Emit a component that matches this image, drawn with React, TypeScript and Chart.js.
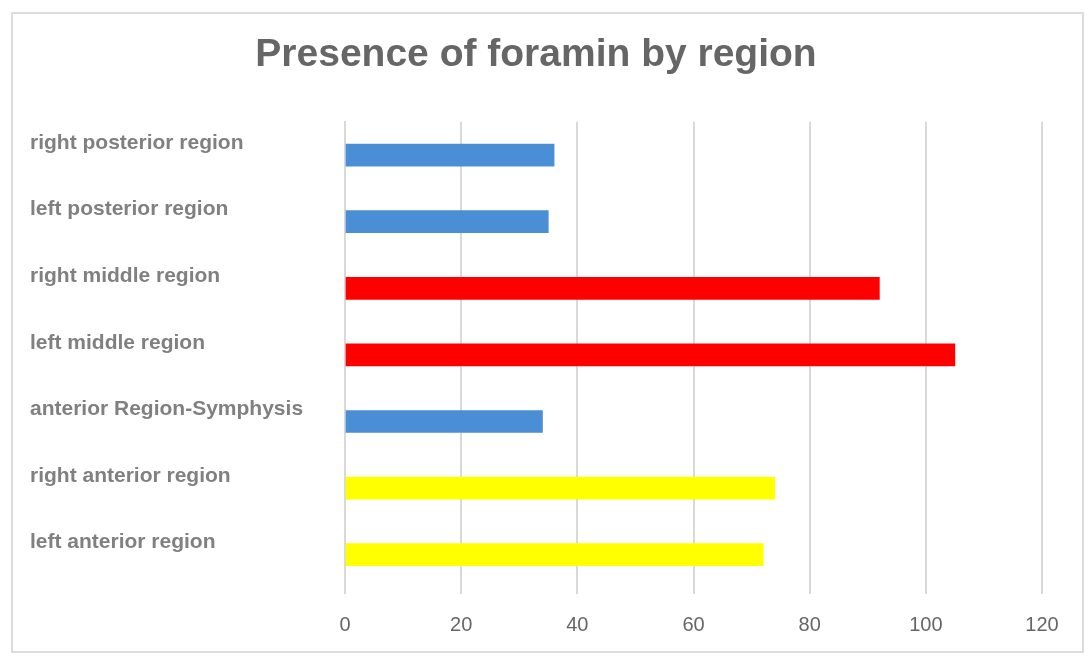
import React, { useEffect, useRef } from "react";
import { Chart, registerables } from "chart.js";

Chart.register(...registerables);

const categories = [
  "right posterior region",
  "left posterior region",
  "right middle region",
  "left middle region",
  "anterior Region-Symphysis",
  "right anterior region",
  "left anterior region",
];
const values = [36, 35, 92, 105, 34, 74, 72];
const barColors = ["#4a8fd6", "#4a8fd6", "#ff0000", "#ff0000", "#4a8fd6", "#ffff00", "#ffff00"];
const xTicks = [0, 20, 40, 60, 80, 100, 120];
const titleText = "Presence of foramin by region";

export default function App() {
  const ref = useRef<HTMLCanvasElement | null>(null);
  useEffect(() => {
    if (!ref.current) return;
    const chart = new Chart(ref.current, {
      type: "bar",
      data: {
        labels: categories,
        datasets: [
          {
            data: values,
            backgroundColor: barColors,
            barThickness: 22,
          },
        ],
      },
      options: {
        indexAxis: "y",
        animation: false,
        responsive: false,
        layout: { padding: { top: 20, left: 30, right: 46, bottom: 2 } },
        plugins: {
          legend: { display: false },
          tooltip: { enabled: false },
          title: {
            display: true,
            text: titleText,
            color: "#666666",
            font: { family: "'Liberation Sans', Arial, sans-serif", size: 39, weight: "bold" },
            padding: { top: 12, bottom: 43 },
          },
        },
        scales: {
          x: {
            min: 0,
            max: 120,
            afterBuildTicks: (scale: any) => {
              scale.ticks = xTicks.map((v) => ({ value: v }));
            },
            grid: {
              color: "#d9d9d9",
              lineWidth: 2,
              drawTicks: true,
              tickLength: 6,
            },
            border: { display: false },
            ticks: {
              color: "#666666",
              padding: 19,
              font: { family: "'Liberation Sans', Arial, sans-serif", size: 20 },
            },
          },
          y: {
            grid: { display: false },
            border: { display: true, color: "#d9d9d9", width: 2 },
            afterFit: (scale: any) => {
              scale.width = 315;
            },
            ticks: {
              crossAlign: "far",
              labelOffset: -12,
              color: "#808080",
              font: { family: "'Liberation Sans', Arial, sans-serif", size: 21, weight: "bold" },
            },
          },
        },
      },
    });
    return () => chart.destroy();
  }, []);
  return (
    <div style={{ position: "fixed", left: 0, top: 0, width: 1088, height: 658, background: "#ffffff" }}>
      <div
        style={{
          position: "absolute",
          left: 11,
          top: 12,
          width: 1073,
          height: 641,
          border: "2px solid #dcdcdc",
          boxSizing: "border-box",
        }}
      />
      <canvas ref={ref} width={1088} height={658} style={{ position: "absolute", left: 0, top: 0 }} />
    </div>
  );
}
